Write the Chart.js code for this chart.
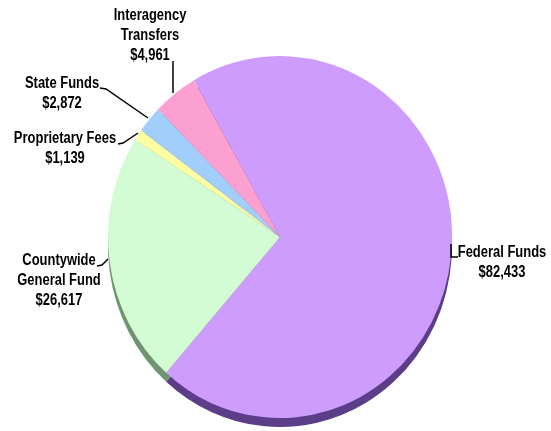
<!DOCTYPE html>
<html>
<head>
<meta charset="utf-8">
<script src="https://cdn.jsdelivr.net/npm/chart.js@4/dist/chart.umd.min.js"></script>
<style>
  html,body{margin:0;padding:0;background:#fff;}
  #wrap{width:551px;height:431px;position:relative;}
</style>
</head>
<body>
<div id="wrap"><canvas id="pie"></canvas></div>
<script>
(function(){
  // data
  const CATEGORIES = [['Federal Funds'], ['Countywide','General Fund'], ['Proprietary Fees'], ['State Funds'], ['Interagency','Transfers']];
  const VALUES     = [82433, 26617, 1139, 2872, 4961];
  const COLORS     = ['#CD9CFD','#D4FCD4','#FDFDA2','#A2CEFB','#FCA0D2'];
  const SIDES      = ['#5C3D88','#6E9470','#A8A860','#6080A8','#A86090'];

  // label placement (centre x, first baseline y) and leader polylines
  const LABEL_POS = [[502,257],[59,265],[65,143],[62,88],[150,20]];
  const LEADERS = [
    [[451,244],[451,257],[458,257]],
    [[97,266],[102,265],[108,259]],
    [[118,144],[123,143],[138,133]],
    [[100,88],[106,89],[148,118]],
    [[173,61],[173,93]]
  ];
  const SX = 172/181, DEPTH = 9;

  const money = v => '$' + v.toLocaleString('en-US');

  const tilt = {
    id:'tilt',
    beforeDatasetsDraw(chart){
      const ctx = chart.ctx, meta = chart.getDatasetMeta(0);
      const a0 = meta.data[0]; if(!a0) return;
      ctx.save();
      ctx.translate(a0.x, a0.y); ctx.scale(SX,1); ctx.translate(-a0.x, -a0.y);
      meta.data.forEach((a,i)=>{
        const p = a.getProps(['x','y','startAngle','endAngle','outerRadius'], true);
        ctx.beginPath();
        ctx.moveTo(p.x, p.y+DEPTH);
        ctx.arc(p.x, p.y+DEPTH, p.outerRadius, p.startAngle, p.endAngle);
        ctx.closePath();
        ctx.fillStyle = SIDES[i];
        ctx.fill();
      });
    },
    afterDatasetsDraw(chart){ chart.ctx.restore(); }
  };

  const labels = {
    id:'labels',
    afterDraw(chart){
      const ctx = chart.ctx;
      ctx.save();
      ctx.strokeStyle = '#000'; ctx.lineWidth = 1.5;
      LEADERS.forEach(pts=>{
        ctx.beginPath();
        pts.forEach((p,j)=> j ? ctx.lineTo(p[0],p[1]) : ctx.moveTo(p[0],p[1]));
        ctx.stroke();
      });
      ctx.fillStyle = '#000';
      ctx.font = 'bold 16px "Liberation Sans", Arial, sans-serif';
      ctx.textAlign = 'center'; ctx.textBaseline = 'alphabetic';
      CATEGORIES.forEach((lines,i)=>{
        const [cx,y0] = LABEL_POS[i];
        lines.concat([money(VALUES[i])]).forEach((t,k)=>{
          ctx.save();
          ctx.translate(cx, y0 + k*20); ctx.scale(0.81,1);
          ctx.fillText(t, 0, 0);
          ctx.restore();
        });
      });
      ctx.restore();
    }
  };

  new Chart(document.getElementById('pie'), {
    type:'pie',
    data:{
      labels: CATEGORIES.map(l=>l.join(' ')),
      datasets:[{ data: VALUES, backgroundColor: COLORS, borderWidth:0, hoverOffset:0, offset:0 }]
    },
    options:{
      responsive:true, maintainAspectRatio:false, animation:false, devicePixelRatio:1,
      events:[],
      rotation:-30,
      layout:{ padding:{ left:99, right:90, top:56, bottom:13 } },
      plugins:{ legend:{display:false}, tooltip:{enabled:false} }
    },
    plugins:[tilt, labels]
  });
})();
</script>
</body>
</html>
